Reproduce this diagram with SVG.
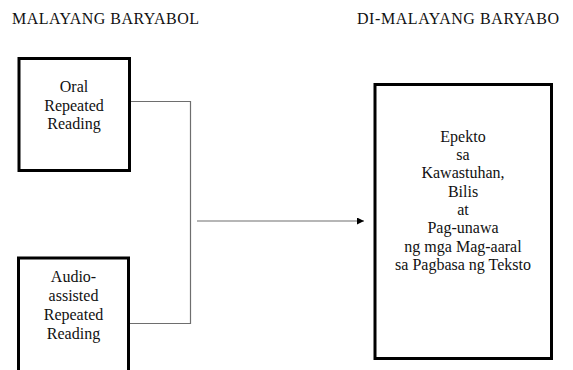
<svg xmlns="http://www.w3.org/2000/svg" width="573" height="370" viewBox="0 0 573 370">
<style>
text{font-family:"Liberation Serif","DejaVu Serif",serif;font-size:16px;fill:#111;}
.c{text-anchor:middle;}
.box{fill:#fff;stroke:#000;stroke-width:3;}
.ln{fill:none;stroke:#6e6e6e;stroke-width:1.2;}
</style>
<defs>
<marker id="ah" markerWidth="8" markerHeight="8" refX="7" refY="3.5" orient="auto" markerUnits="userSpaceOnUse">
<path d="M0,0 L7,3.5 L0,7 Z" fill="#000"/>
</marker>
</defs>
<rect width="573" height="370" fill="#fff"/>
<g id="titles">
<text x="12" y="24" textLength="187" lengthAdjust="spacing">MALAYANG BARYABOL</text>
<text x="357" y="24" textLength="202" lengthAdjust="spacing">DI-MALAYANG BARYABO</text>
</g>
<g id="connectors">
<polyline class="ln" points="131,101.5 190.5,101.5 190.5,323.5 130,323.5"/>
<line class="ln" x1="197" y1="221" x2="364" y2="221" marker-end="url(#ah)"/>
</g>
<g id="oral">
<rect class="box" x="19" y="58.5" width="110.5" height="112"/>
<text class="c" x="74" y="92">Oral</text>
<text class="c" x="74" y="110.5">Repeated</text>
<text class="c" x="74" y="129">Reading</text>
</g>
<g id="audio">
<rect class="box" x="18.5" y="258" width="110" height="130"/>
<text class="c" x="73.5" y="282">Audio-</text>
<text class="c" x="73.5" y="301">assisted</text>
<text class="c" x="73.5" y="320">Repeated</text>
<text class="c" x="73.5" y="338.5">Reading</text>
</g>
<g id="epekto">
<rect class="box" x="375" y="84.5" width="176.5" height="274"/>
<text class="c" x="463" y="141.5">Epekto</text>
<text class="c" x="463" y="160">sa</text>
<text class="c" x="463" y="178.3">Kawastuhan,</text>
<text class="c" x="463" y="196.6">Bilis</text>
<text class="c" x="463" y="215">at</text>
<text class="c" x="463" y="233.3">Pag-unawa</text>
<text class="c" x="463" y="251.6">ng mga Mag-aaral</text>
<text class="c" x="463" y="270">sa Pagbasa ng Teksto</text>
</g>
</svg>
